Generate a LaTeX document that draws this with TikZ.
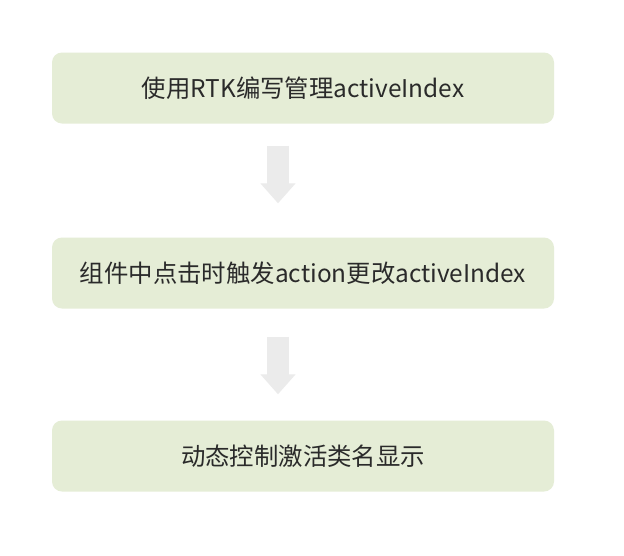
\documentclass[tikz,border=0pt]{standalone}
\usepackage{fontspec}
\setmainfont{Noto Sans CJK SC}
\usetikzlibrary{arrows.meta,positioning}
\definecolor{boxbg}{HTML}{E5EDD6}
\definecolor{arrgray}{HTML}{EBEBEB}
\definecolor{ink}{HTML}{2A2A2A}
\tikzset{
  stepbox/.style={fill=boxbg,rounded corners=10pt,minimum width=502pt,
                  minimum height=71pt,inner sep=0pt,text=ink,
                  font=\fontsize{24.4}{28}\selectfont},
  flowarr/.style={-{Triangle[length=20pt,width=34pt]},line width=22pt,
                  draw=arrgray}
}

\begin{document}
\begin{tikzpicture}[x=1pt,y=-1pt]
    \path[use as bounding box,fill=white] (0,0) rectangle (624,555);
    \node[stepbox] (rtk) at (303,88) {使用RTK编写管理activeIndex};
    \node[stepbox] (click) at (303,273) {组件中点击时触发action更改activeIndex};
    \node[stepbox] (show) at (303,456) {动态控制激活类名显示};
    \draw[flowarr,shorten <=22pt,shorten >=34pt]
      ([xshift=-25pt]rtk.south) -- ([xshift=-25pt]click.north);
    \draw[flowarr,shorten <=28pt,shorten >=26pt]
      ([xshift=-25pt]click.south) -- ([xshift=-25pt]show.north);
  \end{tikzpicture}
\end{document}
